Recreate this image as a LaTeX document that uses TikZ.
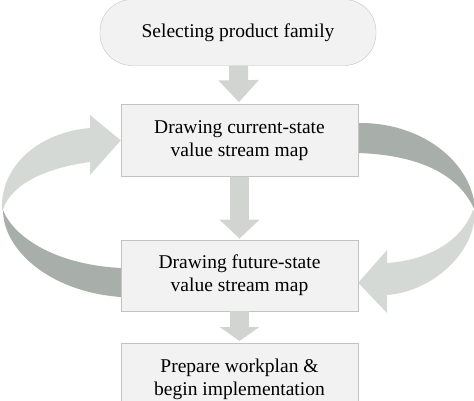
\documentclass[tikz,border=0pt]{standalone}
\usepackage{fontspec}
\setmainfont{Liberation Serif}
\usetikzlibrary{positioning,arrows.meta,calc,backgrounds}

\definecolor{boxfill}{RGB}{242,242,242}
\definecolor{boxline}{RGB}{195,195,195}
\definecolor{flowgray}{RGB}{210,212,210}
\definecolor{loopLight}{RGB}{213,217,213}
\definecolor{loopDark}{RGB}{168,175,171}

\tikzset{
  stage/.style={draw=boxline, fill=boxfill, minimum width=237pt, minimum height=72pt,
    align=center, font=\fontsize{19.5}{22.5}\selectfont, inner sep=2pt},
  flow/.style={draw=flowgray, line width=19pt, -{Triangle[width=39pt,length=#1]}},
  flow/.default=20pt
}

\begin{document}
\begin{tikzpicture}[x=1pt, y=-1pt, node distance=38pt]
    \useasboundingbox (0,0) rectangle (474,400);
    \node[stage, minimum width=276pt, minimum height=66pt, rounded corners=32pt] (fam) at (238,32.5) {Selecting product family};
    \node[stage, below=38.5pt of fam, xshift=1.5pt] (cur) {Drawing current-state\\value stream map};
    \node[stage, below=63pt of cur, minimum height=71pt] (fut) {Drawing future-state\\value stream map};
    \node[stage, below=32pt of fut] (plan) {Prepare workplan \&\\begin implementation};

    \draw[flow=22pt, shorten >=2pt] (fam) -- (cur);
    \draw[flow=19pt, shorten >=1pt] (cur) -- (fut);
    \draw[flow=14pt, shorten >=2pt] (fut) -- (plan);

    \begin{scope}[on background layer]
        % left loop, back side then front side
        \fill[loopDark] (121,268) .. controls (60,265) and (15,240) .. (3,210)
            .. controls (3,250) and (50,292) .. (121,297) -- cycle;
        \fill[loopLight] (2,210) .. controls (0,165) and (40,132) .. (90,128)
            -- (90,115) -- (cur.west) -- (90,175) -- (90,162)
            .. controls (45,168) and (10,185) .. (3,210) -- cycle;
        % right loop
        \fill[loopDark] (358,123) .. controls (420,122) and (470,160) .. (475,207)
            -- (475,211) .. controls (460,175) and (420,155) .. (358,153) -- cycle;
        \fill[loopLight] (475,211) .. controls (475,255) and (430,292) .. (387,295)
            -- (387,313) -- ($(fut.east)+(0,7.5)$) -- (387,250) -- (387,263)
            .. controls (430,260) and (462,240) .. (473,210) -- cycle;
    \end{scope}
\end{tikzpicture}
\end{document}
